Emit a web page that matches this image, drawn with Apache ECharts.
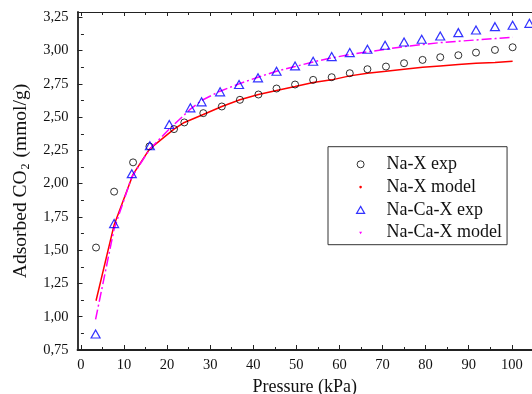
<!DOCTYPE html>
<html>
<head>
<meta charset="utf-8">
<script src="https://cdn.jsdelivr.net/npm/echarts@6/dist/echarts.min.js"></script>
<style>
  html, body { margin: 0; padding: 0; background: #fff; overflow: hidden; }
  #chart { width: 532px; height: 394px; }
</style>
</head>
<body>
<div id="chart"></div>
<script>
// Na-X
const pressNaX = [3.5, 7.7, 12.1, 15.9, 21.6, 24.0, 28.4, 32.7, 36.9, 41.2, 45.4, 49.7, 53.9, 58.2, 62.4, 66.5, 70.8, 75.0, 79.3, 83.4, 87.6, 91.7, 96.1, 100.2];
const expNaX = [1.52, 1.94, 2.16, 2.28, 2.41, 2.46, 2.53, 2.58, 2.63, 2.67, 2.715, 2.745, 2.78, 2.80, 2.83, 2.86, 2.88, 2.905, 2.93, 2.95, 2.965, 2.985, 3.005, 3.025];
const modelNaX = [1.12, 1.69, 2.07, 2.26, 2.41, 2.46, 2.52, 2.58, 2.63, 2.67, 2.70, 2.73, 2.76, 2.78, 2.81, 2.83, 2.845, 2.86, 2.875, 2.885, 2.895, 2.905, 2.91, 2.92];

// Na-Ca-X
const pressNaCaX = [3.4, 7.7, 11.8, 16.0, 20.5, 25.4, 28.0, 32.3, 36.7, 41.1, 45.4, 49.7, 53.9, 58.2, 62.4, 66.5, 70.6, 75.0, 79.1, 83.4, 87.6, 91.7, 96.1, 100.2, 104.1];
const expNaCaX = [0.87, 1.70, 2.075, 2.285, 2.445, 2.57, 2.615, 2.69, 2.745, 2.795, 2.845, 2.885, 2.92, 2.955, 2.985, 3.01, 3.04, 3.065, 3.085, 3.11, 3.135, 3.155, 3.18, 3.19, 3.205];
const modelNaCaX = [0.98, 1.66, 2.05, 2.26, 2.41, 2.56, 2.625, 2.695, 2.75, 2.80, 2.845, 2.88, 2.915, 2.945, 2.97, 2.99, 3.01, 3.03, 3.045, 3.06, 3.07, 3.08, 3.09, 3.10];

// ticks
const xMajorTicks = [0, 10, 20, 30, 40, 50, 60, 70, 80, 90, 100];
const xMinorTicks = [5, 15, 25, 35, 45, 55, 65, 75, 85, 95];
const yMajorTicks = [0.75, 1.00, 1.25, 1.50, 1.75, 2.00, 2.25, 2.50, 2.75, 3.00, 3.25];
const yMinorTicks = [0.875, 1.125, 1.375, 1.625, 1.875, 2.125, 2.375, 2.625, 2.875, 3.125];

const pairs = (xs, ys) => ys.map((y, i) => [xs[i], y]);

const FONT = "'Liberation Serif', 'Times New Roman', serif";
const AXIS = '#222';
const X_MIN = -0.8, X_MAX = 104.7;
const Y_MIN = 0.75, Y_MAX = 3.29;

const chart = echarts.init(document.getElementById('chart'), null, { renderer: 'canvas' });

function xAx(pos, ticks, len, opts) {
  return Object.assign({
    type: 'value', position: pos, min: X_MIN, max: X_MAX,
    axisLine: { show: false },
    axisTick: { show: true, inside: true, length: len, customValues: ticks, lineStyle: { color: AXIS, width: 1 } },
    axisLabel: { show: false },
    splitLine: { show: false }
  }, opts || {});
}
function yAx(ticks, len, opts) {
  return Object.assign({
    type: 'value', position: 'left', min: Y_MIN, max: Y_MAX,
    axisLine: { show: false },
    axisTick: { show: true, inside: true, length: len, customValues: ticks, lineStyle: { color: AXIS, width: 1 } },
    axisLabel: { show: false },
    splitLine: { show: false }
  }, opts || {});
}

const option = {
  backgroundColor: '#fff',
  animation: false,
  grid: { left: 77.5, right: 0, top: 12, bottom: 44, containLabel: false, outerBoundsMode: 'none' },
  xAxis: [
    xAx('bottom', xMajorTicks, 5, {
      name: 'Pressure (kPa)',
      nameLocation: 'middle',
      nameGap: 26,
      nameTextStyle: { fontFamily: FONT, fontSize: 18, color: '#111' },
      axisLine: { show: true, onZero: false, lineStyle: { color: AXIS, width: 1.8 } },
      axisLabel: {
        show: true, customValues: xMajorTicks, margin: 8,
        fontFamily: FONT, fontSize: 14.5, color: '#111'
      }
    }),
    xAx('bottom', xMinorTicks, 3),
    xAx('top', xMajorTicks, 4, { axisLine: { show: true, onZero: false, lineStyle: { color: AXIS, width: 1 } } }),
    xAx('top', xMinorTicks, 3)
  ],
  yAxis: [
    yAx(yMajorTicks, 5, {
      name: 'Adsorbed CO{sub|2} (mmol/g)',
      nameLocation: 'middle',
      nameGap: 46,
      nameRotate: 90,
      nameTextStyle: {
        fontFamily: FONT, fontSize: 19.5, color: '#111',
        rich: { sub: { fontFamily: FONT, fontSize: 12, color: '#111', padding: [9, 1, 0, 1] } }
      },
      axisLine: { show: true, onZero: false, lineStyle: { color: AXIS, width: 1.8 } },
      axisLabel: {
        show: true, customValues: yMajorTicks, margin: 9,
        fontFamily: FONT, fontSize: 14.5, color: '#111',
        formatter: v => v.toFixed(2).replace('.', ',')
      }
    }),
    yAx(yMinorTicks, 3)
  ],
  legend: {
    orient: 'vertical',
    left: 328,
    top: 146.7,
    padding: [8.6, 5, 3, 23],
    itemGap: 4.8,
    itemWidth: 30,
    itemHeight: 14,
    borderColor: '#333',
    borderWidth: 1,
    textStyle: { fontFamily: FONT, fontSize: 18, color: '#111', lineHeight: 18 },
    data: [
      { name: 'Na-X exp', icon: 'path://M0,0M30,14M12.5,7A3.5,3.5,0,1,1,5.5,7A3.5,3.5,0,1,1,12.5,7Z',
        itemStyle: { color: 'rgba(0,0,0,0)', borderColor: '#000', borderWidth: 1 } },
      { name: 'Na-X model', icon: 'path://M0,0M30,14M10.3,7A1.3,1.3,0,1,1,7.7,7A1.3,1.3,0,1,1,10.3,7Z',
        itemStyle: { color: '#ff0000', borderWidth: 0 } },
      { name: 'Na-Ca-X exp', icon: 'path://M0,0M30,14M9,3.5L13,10.5L5,10.5Z',
        itemStyle: { color: 'rgba(0,0,0,0)', borderColor: '#0000ff', borderWidth: 1.2 } },
      { name: 'Na-Ca-X model', icon: 'path://M0,0M30,14M7.5,6L10.5,6L9,8.5Z',
        itemStyle: { color: '#ff00ff', borderWidth: 0 } }
    ]
  },
  series: [
    {
      name: 'Na-X model', type: 'line', data: pairs(pressNaX, modelNaX),
      showSymbol: false, smooth: false,
      itemStyle: { color: '#ff0000' },
      lineStyle: { color: '#ff0000', width: 1.5 },
      z: 2
    },
    {
      name: 'Na-Ca-X model', type: 'line', data: pairs(pressNaCaX, modelNaCaX),
      showSymbol: false, smooth: false,
      itemStyle: { color: '#ff00ff' },
      lineStyle: { color: '#ff00ff', width: 1.5, type: [10, 3, 2, 3] },
      z: 2
    },
    {
      name: 'Na-X exp', type: 'scatter', data: pairs(pressNaX, expNaX),
      symbol: 'circle', symbolSize: 7,
      itemStyle: { color: 'rgba(0,0,0,0)', borderColor: '#000', borderWidth: 1 },
      z: 3
    },
    {
      name: 'Na-Ca-X exp', type: 'scatter', data: pairs(pressNaCaX, expNaCaX),
      symbol: 'triangle', symbolSize: [9, 8],
      itemStyle: { color: 'rgba(0,0,0,0)', borderColor: '#0000ff', borderWidth: 1.2 },
      z: 3
    }
  ]
};
chart.setOption(option);

window.addEventListener('resize', () => chart.resize());
</script>
</body>
</html>
